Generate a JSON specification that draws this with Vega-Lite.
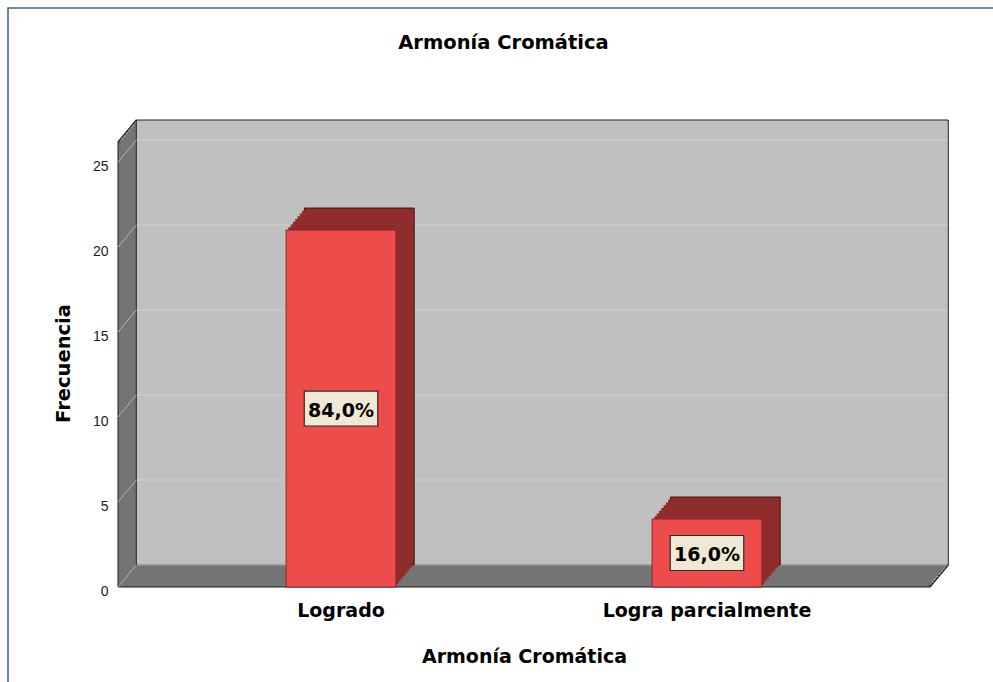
{
  "$schema": "https://vega.github.io/schema/vega-lite/v6.json",
  "width": 812,
  "height": 445,
  "autosize": {"type": "none"},
  "padding": {"left": 118, "top": 142, "right": 63, "bottom": 95},
  "background": "white",
  "config": {
    "view": {"stroke": null},
    "axisY": {"tickCount": 5, "ticks": false, "domain": false, "grid": false, "labelPadding": 10, "labelOffset": 4, "labelFont": "Liberation Sans", "labelFontSize": 14, "labelColor": "#1a1a1a", "titleFont": "DejaVu Sans", "titleFontSize": 19.5, "titleFontWeight": "bold", "titleColor": "#000000", "titleX": -54.5, "titleY": 221, "titleAngle": -90, "titleAlign": "center", "titleBaseline": "middle"},
    "axisX": {"labelAngle": 0, "labelLimit": 0, "ticks": false, "domain": false, "grid": false, "labelPadding": 14.5, "labelFont": "DejaVu Sans", "labelFontSize": 19, "labelFontWeight": "bold", "labelColor": "#000000", "titleFont": "DejaVu Sans", "titleFontSize": 19, "titleFontWeight": "bold", "titleColor": "#000000", "titleY": 60, "titleBaseline": "top"}
  },
  "title": {"text": "Armonía Cromática", "font": "DejaVu Sans", "fontSize": 19.5, "fontWeight": "bold", "color": "#000000", "anchor": "middle", "frame": "group", "dx": -20.5, "offset": -60.75, "baseline": "alphabetic"},
  "layer": [
    {"data": {"values": [{}]}, "mark": {"type": "rect", "filled": false, "stroke": "#3f5f8f", "strokeWidth": 1.5, "xOffset": -110, "x2Offset": 80, "yOffset": 100, "y2Offset": -134}, "encoding": {"x": {"value": 0}, "x2": {"value": "width"}, "y": {"datum": 0, "title": "Frecuencia"}, "y2": {"datum": 26.18}}},
    {"data": {"values": [{}]}, "mark": {"type": "rect", "fill": "#747474", "stroke": "#1a1a1a", "strokeWidth": 1, "xOffset": 0, "x2Offset": 0, "yOffset": 0, "y2Offset": 0}, "encoding": {"x": {"value": 0}, "x2": {"value": "width"}, "y": {"datum": 0, "title": "Frecuencia"}, "y2": {"datum": 26.18}}},
    {"data": {"values": [{}]}, "mark": {"type": "rect", "fill": "#747474", "xOffset": 2.29, "x2Offset": 2.29, "yOffset": -2.75, "y2Offset": -2.75}, "encoding": {"x": {"value": 0}, "x2": {"value": "width"}, "y": {"datum": 0, "title": "Frecuencia"}, "y2": {"datum": 26.18}}},
    {"data": {"values": [{}]}, "mark": {"type": "rect", "fill": "#747474", "xOffset": 4.58, "x2Offset": 4.58, "yOffset": -5.5, "y2Offset": -5.5}, "encoding": {"x": {"value": 0}, "x2": {"value": "width"}, "y": {"datum": 0, "title": "Frecuencia"}, "y2": {"datum": 26.18}}},
    {"data": {"values": [{}]}, "mark": {"type": "rect", "fill": "#747474", "xOffset": 6.86, "x2Offset": 6.86, "yOffset": -8.25, "y2Offset": -8.25}, "encoding": {"x": {"value": 0}, "x2": {"value": "width"}, "y": {"datum": 0, "title": "Frecuencia"}, "y2": {"datum": 26.18}}},
    {"data": {"values": [{}]}, "mark": {"type": "rect", "fill": "#747474", "xOffset": 9.15, "x2Offset": 9.15, "yOffset": -11, "y2Offset": -11}, "encoding": {"x": {"value": 0}, "x2": {"value": "width"}, "y": {"datum": 0, "title": "Frecuencia"}, "y2": {"datum": 26.18}}},
    {"data": {"values": [{}]}, "mark": {"type": "rect", "fill": "#747474", "xOffset": 11.44, "x2Offset": 11.44, "yOffset": -13.75, "y2Offset": -13.75}, "encoding": {"x": {"value": 0}, "x2": {"value": "width"}, "y": {"datum": 0, "title": "Frecuencia"}, "y2": {"datum": 26.18}}},
    {"data": {"values": [{}]}, "mark": {"type": "rect", "fill": "#747474", "xOffset": 13.73, "x2Offset": 13.73, "yOffset": -16.5, "y2Offset": -16.5}, "encoding": {"x": {"value": 0}, "x2": {"value": "width"}, "y": {"datum": 0, "title": "Frecuencia"}, "y2": {"datum": 26.18}}},
    {"data": {"values": [{}]}, "mark": {"type": "rect", "fill": "#747474", "xOffset": 16.01, "x2Offset": 16.01, "yOffset": -19.25, "y2Offset": -19.25}, "encoding": {"x": {"value": 0}, "x2": {"value": "width"}, "y": {"datum": 0, "title": "Frecuencia"}, "y2": {"datum": 26.18}}},
    {"data": {"values": [{}]}, "mark": {"type": "rect", "fill": "#c0c0c0", "stroke": "#222222", "strokeWidth": 1, "xOffset": 18.3, "x2Offset": 18.3, "yOffset": -22, "y2Offset": -22}, "encoding": {"x": {"value": 0}, "x2": {"value": "width"}, "y": {"datum": 0, "title": "Frecuencia"}, "y2": {"datum": 26.18}}},
    {"data": {"values": [{"g": 0}, {"g": 5}, {"g": 10}, {"g": 15}, {"g": 20}, {"g": 25}]}, "mark": {"type": "rule", "color": "#cdcdcd", "strokeWidth": 1.2, "xOffset": 18.8, "x2Offset": 17.8, "yOffset": -22, "y2Offset": -22}, "encoding": {"x": {"value": 0}, "x2": {"value": "width"}, "y": {"field": "g", "type": "quantitative", "title": "Frecuencia"}}},
    {"data": {"values": [{"g": 0}, {"g": 5}, {"g": 10}, {"g": 15}, {"g": 20}, {"g": 25}]}, "mark": {"type": "rule", "color": "#b4b4b4", "strokeWidth": 1, "xOffset": 0, "x2Offset": 18.3, "yOffset": 0, "y2Offset": -22}, "encoding": {"x": {"value": 0}, "x2": {"value": 0}, "y": {"field": "g", "type": "quantitative", "title": "Frecuencia"}, "y2": {"field": "g"}}},
    {"data": {"values": [{}]}, "mark": {"type": "rule", "color": "#1a1a1a", "strokeWidth": 1.2, "xOffset": 0, "x2Offset": 18.3, "yOffset": 0, "y2Offset": -22}, "encoding": {"x": {"value": 0}, "x2": {"value": 0}, "y": {"datum": 26.18, "title": "Frecuencia"}, "y2": {"datum": 26.18}}},
    {"data": {"values": [{}]}, "mark": {"type": "rule", "color": "#1a1a1a", "strokeWidth": 1.2, "xOffset": 0, "x2Offset": 18.3, "yOffset": 0, "y2Offset": -22}, "encoding": {"x": {"value": "width"}, "x2": {"value": "width"}, "y": {"datum": 0, "title": "Frecuencia"}, "y2": {"datum": 0}}},
    {
      "data": {"values": [
        {"categoria": "Logrado", "frecuencia": 21, "etiqueta": "84,0%"},
        {"categoria": "Logra parcialmente", "frecuencia": 4, "etiqueta": "16,0%"}
      ]},
      "encoding": {
        "x": {"field": "categoria", "type": "nominal", "sort": null, "title": "Armonía Cromática", "scale": {"paddingInner": 0.7, "paddingOuter": 0.4593}},
        "y": {"field": "frecuencia", "type": "quantitative", "title": "Frecuencia", "scale": {"domain": [0, 26.18], "nice": false, "zero": true}}
      },
      "layer": [
        {"mark": {"type": "bar", "fill": "#8f2c2c", "stroke": "#4a1010", "strokeWidth": 1, "xOffset": 18.3, "yOffset": -22, "y2Offset": -22}},
        {"mark": {"type": "bar", "fill": "#8f2c2c", "xOffset": 16.01, "yOffset": -19.25, "y2Offset": -19.25}},
        {"mark": {"type": "bar", "fill": "#8f2c2c", "xOffset": 13.73, "yOffset": -16.5, "y2Offset": -16.5}},
        {"mark": {"type": "bar", "fill": "#8f2c2c", "xOffset": 11.44, "yOffset": -13.75, "y2Offset": -13.75}},
        {"mark": {"type": "bar", "fill": "#8f2c2c", "xOffset": 9.15, "yOffset": -11, "y2Offset": -11}},
        {"mark": {"type": "bar", "fill": "#8f2c2c", "xOffset": 6.86, "yOffset": -8.25, "y2Offset": -8.25}},
        {"mark": {"type": "bar", "fill": "#8f2c2c", "xOffset": 4.58, "yOffset": -5.5, "y2Offset": -5.5}},
        {"mark": {"type": "bar", "fill": "#8f2c2c", "xOffset": 2.29, "yOffset": -2.75, "y2Offset": -2.75}},
        {"mark": {"type": "bar", "fill": "#ee4b4b", "stroke": "#8a2525", "strokeWidth": 1}},
        {"transform": [{"calculate": "datum.frecuencia / 2", "as": "mitad"}],
         "mark": {"type": "point", "shape": "M-1,-0.476L1,-0.476L1,0.476L-1,0.476Z", "size": 5402, "filled": true, "fill": "#efe8d4", "stroke": "#2b2b2b", "strokeWidth": 1.2, "opacity": 1},
         "encoding": {"y": {"field": "mitad", "type": "quantitative", "title": "Frecuencia"}}},
        {"transform": [{"calculate": "datum.frecuencia / 2", "as": "mitad"}],
         "mark": {"type": "text", "font": "DejaVu Sans", "fontSize": 19, "fontWeight": "bold", "color": "#000000", "align": "center", "baseline": "middle", "dy": 2},
         "encoding": {"y": {"field": "mitad", "type": "quantitative", "title": "Frecuencia"}, "text": {"field": "etiqueta", "type": "nominal"}}}
      ]
    }
  ]
}
